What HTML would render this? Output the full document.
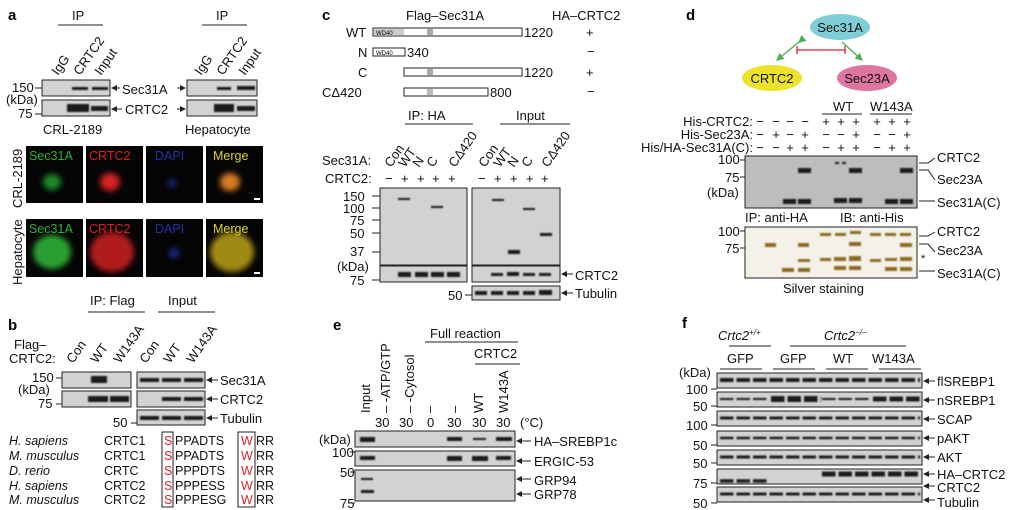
<!DOCTYPE html>
<html><head><meta charset="utf-8"><style>
html,body{margin:0;padding:0;background:#fff;}
svg{display:block;font-family:"Liberation Sans",Arial,sans-serif;}
.t{font-size:13px;fill:#111;}
.s{font-size:11px;fill:#111;}
.b{font-weight:bold;font-size:15px;}
.blot{fill:#d2d2d2;stroke:#222;stroke-width:1;}
.bd{fill:#1a1a1a;filter:url(#bl);}
.ln{stroke:#222;stroke-width:1;fill:none;}
.img{fill:#050505;}
.fb{stroke:#1a1a1a;stroke-dasharray:13.5 3;filter:url(#bl);}
</style></head><body>
<svg width="1024" height="510" viewBox="0 0 1024 510" xmlns="http://www.w3.org/2000/svg">
<defs>
<filter id="bl" x="-20%" y="-100%" width="140%" height="300%"><feGaussianBlur stdDeviation="0.9"/></filter>
<filter id="bl3" x="-50%" y="-50%" width="200%" height="200%"><feGaussianBlur stdDeviation="3"/></filter>
<marker id="ar" markerWidth="6" markerHeight="6" refX="5" refY="3" orient="auto"><path d="M0,0 L6,3 L0,6 z" fill="#222"/></marker>
<marker id="ag" markerWidth="6" markerHeight="6" refX="5" refY="3" orient="auto"><path d="M0,0 L6,3 L0,6 z" fill="#4caf50"/></marker>
</defs>

<!-- Panel a -->
<text x="8" y="20" class="b">a</text>
<text x="72" y="20" class="t">IP</text><line x1="58" y1="25" x2="103" y2="25" class="ln"/>
<text x="216" y="20" class="t">IP</text><line x1="202" y1="25" x2="247" y2="25" class="ln"/>
<g class="t">
<text transform="translate(58,76) rotate(-55)">IgG</text>
<text transform="translate(80,76) rotate(-55)">CRTC2</text>
<text transform="translate(101,76) rotate(-55)">Input</text>
<text transform="translate(201,76) rotate(-55)">IgG</text>
<text transform="translate(223,76) rotate(-55)">CRTC2</text>
<text transform="translate(245,76) rotate(-55)">Input</text>
</g>
<rect x="42" y="80" width="68" height="16" class="blot"/>
<rect x="42" y="100" width="68" height="16" class="blot"/>
<rect x="187" y="80" width="70" height="16" class="blot"/>
<rect x="187" y="100" width="70" height="16" class="blot"/>
<rect x="72" y="87" width="16" height="3" class="bd"/><rect x="92" y="87" width="16" height="3" class="bd"/>
<rect x="67" y="104" width="22" height="8" class="bd"/><rect x="91" y="106" width="17" height="5" class="bd"/>
<rect x="217" y="87" width="14" height="3" class="bd"/><rect x="237" y="86" width="18" height="4" class="bd"/>
<rect x="214" y="104" width="20" height="8" class="bd"/><rect x="237" y="106" width="18" height="5" class="bd"/>
<text x="12" y="92" class="t">150</text><line x1="35" y1="88" x2="42" y2="88" class="ln"/>
<text x="6" y="104" class="t">(kDa)</text>
<text x="18" y="118" class="t">75</text><line x1="35" y1="114" x2="42" y2="114" class="ln"/>
<text x="122" y="94" class="t">Sec31A</text><line x1="120" y1="88" x2="112" y2="88" class="ln" marker-end="url(#ar)"/>
<line x1="177" y1="88" x2="185" y2="88" class="ln" marker-end="url(#ar)"/>
<text x="125" y="114" class="t">CRTC2</text><line x1="122" y1="109" x2="112" y2="109" class="ln" marker-end="url(#ar)"/>
<line x1="177" y1="109" x2="185" y2="109" class="ln" marker-end="url(#ar)"/>
<text x="43" y="134" class="t">CRL-2189</text>
<text x="185" y="134" class="t">Hepatocyte</text>
<!-- fluorescence -->
<rect x="26" y="146" width="57" height="57" class="img"/><rect x="86" y="146" width="57" height="57" class="img"/>
<rect x="146" y="146" width="57" height="57" class="img"/><rect x="206" y="146" width="57" height="57" class="img"/>
<rect x="26" y="219" width="57" height="58" class="img"/><rect x="86" y="219" width="57" height="58" class="img"/>
<rect x="146" y="219" width="57" height="58" class="img"/><rect x="206" y="219" width="57" height="58" class="img"/>
<ellipse cx="52" cy="182" rx="9" ry="8" fill="#1f8a2a" filter="url(#bl3)"/>
<ellipse cx="110" cy="182" rx="10" ry="9" fill="#d42020" filter="url(#bl3)"/>
<ellipse cx="172" cy="183" rx="4" ry="4" fill="#1a2a90" filter="url(#bl3)"/>
<ellipse cx="230" cy="182" rx="10" ry="9" fill="#d87a20" filter="url(#bl3)"/>
<ellipse cx="52" cy="252" rx="19" ry="17" fill="#2aa030" filter="url(#bl3)"/>
<ellipse cx="112" cy="252" rx="22" ry="20" fill="#b01c1c" filter="url(#bl3)"/>
<ellipse cx="174" cy="253" rx="5" ry="5" fill="#1a2a90" filter="url(#bl3)"/>
<ellipse cx="232" cy="252" rx="22" ry="20" fill="#a08a18" filter="url(#bl3)"/>
<g style="font-size:12.5px">
<text x="29" y="160" fill="#2fb030">Sec31A</text><text x="89" y="160" fill="#e02020">CRTC2</text>
<text x="155" y="160" fill="#2232a8">DAPI</text><text x="213" y="160" fill="#e0d020">Merge</text>
<text x="29" y="233" fill="#2fb030">Sec31A</text><text x="89" y="233" fill="#e02020">CRTC2</text>
<text x="155" y="233" fill="#2232a8">DAPI</text><text x="213" y="233" fill="#e0d020">Merge</text>
</g>
<rect x="254" y="198" width="6" height="2" fill="#fff"/><rect x="254" y="272" width="6" height="2" fill="#fff"/>
<text transform="translate(22,208) rotate(-90)" class="t">CRL-2189</text>
<text transform="translate(22,285) rotate(-90)" class="t">Hepatocyte</text>

<!-- Panel b -->
<text x="90" y="305" class="t">IP: Flag</text><line x1="88" y1="312" x2="145" y2="312" class="ln"/>
<text x="168" y="305" class="t">Input</text><line x1="158" y1="312" x2="215" y2="312" class="ln"/>
<text x="8" y="330" class="b">b</text>
<text x="14" y="349" class="t">Flag–</text><text x="9" y="363" class="t">CRTC2:</text>
<g class="t">
<text transform="translate(73,364) rotate(-55)">Con</text>
<text transform="translate(97,364) rotate(-55)">WT</text>
<text transform="translate(120,364) rotate(-55)">W143A</text>
<text transform="translate(146,364) rotate(-55)">Con</text>
<text transform="translate(170,364) rotate(-55)">WT</text>
<text transform="translate(193,364) rotate(-55)">W143A</text>
</g>
<rect x="62" y="372" width="69" height="16" class="blot"/><rect x="62" y="391" width="69" height="16" class="blot"/>
<rect x="137" y="372" width="68" height="16" class="blot"/><rect x="137" y="391" width="68" height="16" class="blot"/>
<rect x="137" y="410" width="68" height="15" class="blot"/>
<rect x="91" y="376" width="16" height="7" class="bd"/>
<rect x="88" y="396" width="20" height="6" class="bd"/><rect x="110" y="396" width="19" height="6" class="bd"/>
<rect x="140" y="378" width="19" height="4" class="bd"/><rect x="162" y="378" width="19" height="4" class="bd"/><rect x="184" y="378" width="19" height="4" class="bd"/>
<rect x="162" y="397" width="19" height="4" class="bd"/><rect x="184" y="397" width="19" height="4" class="bd"/>
<rect x="140" y="416" width="19" height="4" class="bd"/><rect x="162" y="416" width="19" height="4" class="bd"/><rect x="184" y="416" width="19" height="4" class="bd"/>
<text x="32" y="382" class="t">150</text><line x1="56" y1="378" x2="62" y2="378" class="ln"/>
<text x="18" y="394" class="t">(kDa)</text>
<text x="38" y="408" class="t">75</text><line x1="56" y1="404" x2="62" y2="404" class="ln"/>
<text x="113" y="427" class="t">50</text><line x1="131" y1="423" x2="137" y2="423" class="ln"/>
<text x="220" y="385" class="t">Sec31A</text><line x1="218" y1="380" x2="207" y2="380" class="ln" marker-end="url(#ar)"/>
<text x="220" y="404" class="t">CRTC2</text><line x1="218" y1="399" x2="207" y2="399" class="ln" marker-end="url(#ar)"/>
<text x="220" y="423" class="t">Tubulin</text><line x1="218" y1="418" x2="207" y2="418" class="ln" marker-end="url(#ar)"/>
<g class="t" style="font-size:12.5px">
<text x="9" y="445" font-style="italic">H. sapiens</text><text x="104" y="445">CRTC1</text><text x="175" y="445">PPADTS</text><text x="256" y="445">RR</text>
<text x="9" y="460" font-style="italic">M. musculus</text><text x="104" y="460">CRTC1</text><text x="175" y="460">PPADTS</text><text x="256" y="460">RR</text>
<text x="9" y="475" font-style="italic">D. rerio</text><text x="104" y="475">CRTC</text><text x="175" y="475">PPPDTS</text><text x="256" y="475">RR</text>
<text x="9" y="490" font-style="italic">H. sapiens</text><text x="104" y="490">CRTC2</text><text x="175" y="490">PPPESS</text><text x="256" y="490">RR</text>
<text x="9" y="504" font-style="italic">M. musculus</text><text x="104" y="504">CRTC2</text><text x="175" y="504">PPPESG</text><text x="256" y="504">RR</text>
</g>
<g style="font-size:12.5px" fill="#e0202a">
<text x="164" y="445">S</text><text x="164" y="460">S</text><text x="164" y="475">S</text><text x="164" y="490">S</text><text x="164" y="504">S</text>
<text x="241" y="445">W</text><text x="241" y="460">W</text><text x="241" y="475">W</text><text x="241" y="490">W</text><text x="241" y="504">W</text>
</g>
<rect x="162" y="432" width="11" height="75" class="ln"/><rect x="238" y="432" width="17" height="75" class="ln"/>

<!-- Panel c -->
<text x="322" y="20" class="b">c</text>
<text x="406" y="20" class="t">Flag–Sec31A</text><text x="552" y="20" class="t">HA–CRTC2</text>
<text x="346" y="37" class="t">WT</text><text x="358" y="57" class="t">N</text><text x="358" y="77" class="t">C</text><text x="322" y="97" class="t">CΔ420</text>
<rect x="373" y="28" width="149" height="8" class="ln" fill="#fff"/><rect x="374" y="29" width="30" height="6" fill="#ccc"/><text x="376" y="35" style="font-size:6px">WD40</text><rect x="427" y="29" width="6" height="6" fill="#aaa"/>
<rect x="373" y="48" width="32" height="8" class="ln" fill="#ccc"/><text x="376" y="55" style="font-size:6px">WD40</text>
<rect x="404" y="68" width="118" height="8" class="ln" fill="#fff"/><rect x="427" y="69" width="6" height="6" fill="#aaa"/>
<rect x="404" y="88" width="84" height="8" class="ln" fill="#fff"/><rect x="427" y="89" width="6" height="6" fill="#bbb"/>
<text x="524" y="37" class="t">1220</text><text x="407" y="57" class="t">340</text><text x="524" y="77" class="t">1220</text><text x="490" y="97" class="t">800</text>
<text x="586" y="37" class="t">+</text><text x="587" y="56" class="t">−</text><text x="586" y="77" class="t">+</text><text x="587" y="96" class="t">−</text>
<text x="408" y="120" class="t">IP: HA</text><line x1="405" y1="124" x2="473" y2="124" class="ln"/>
<text x="516" y="120" class="t">Input</text><line x1="500" y1="124" x2="570" y2="124" class="ln"/>
<g class="t">
<text transform="translate(391,168) rotate(-55)">Con</text>
<text transform="translate(405,168) rotate(-55)">WT</text>
<text transform="translate(419,168) rotate(-55)">N</text>
<text transform="translate(433,168) rotate(-55)">C</text>
<text transform="translate(455,168) rotate(-55)">CΔ420</text>
<text transform="translate(485,168) rotate(-55)">Con</text>
<text transform="translate(500,168) rotate(-55)">WT</text>
<text transform="translate(514,168) rotate(-55)">N</text>
<text transform="translate(528,168) rotate(-55)">C</text>
<text transform="translate(548,168) rotate(-55)">CΔ420</text>
</g>
<text x="322" y="165" class="t">Sec31A:</text><text x="325" y="183" class="t">CRTC2:</text>
<g class="t">
<text x="385" y="183">−</text><text x="401" y="183">+</text><text x="417" y="183">+</text><text x="432" y="183">+</text><text x="448" y="183">+</text>
<text x="478" y="183">−</text><text x="494" y="183">+</text><text x="510" y="183">+</text><text x="526" y="183">+</text><text x="541" y="183">+</text>
</g>
<rect x="380" y="188" width="87" height="77" class="blot" fill="#d4d4d4"/>
<rect x="472" y="188" width="88" height="77" class="blot" fill="#d4d4d4"/>
<rect x="398" y="198" width="12" height="2" class="bd"/><rect x="431" y="206" width="12" height="2" class="bd"/>
<rect x="492" y="199" width="12" height="2" class="bd"/><rect x="523" y="208" width="12" height="2" class="bd"/>
<rect x="508" y="250" width="12" height="4" class="bd"/><rect x="540" y="233" width="12" height="3" class="bd"/>
<g class="t"><text x="343" y="201">150</text><text x="343" y="213">100</text><text x="350" y="225">75</text><text x="350" y="238">50</text><text x="350" y="256">37</text><text x="337" y="271">(kDa)</text><text x="350" y="285">75</text></g>
<g class="ln"><line x1="372" y1="196" x2="380" y2="196"/><line x1="372" y1="208" x2="380" y2="208"/><line x1="372" y1="220" x2="380" y2="220"/><line x1="372" y1="233" x2="380" y2="233"/><line x1="372" y1="252" x2="380" y2="252"/><line x1="372" y1="280" x2="380" y2="280"/><line x1="465" y1="295" x2="472" y2="295"/></g>
<rect x="380" y="266" width="87" height="16" class="blot"/><rect x="472" y="266" width="88" height="16" class="blot"/>
<rect x="472" y="286" width="88" height="14" class="blot"/>
<rect x="398" y="272" width="13" height="5" class="bd"/><rect x="415" y="272" width="13" height="5" class="bd"/><rect x="431" y="272" width="13" height="5" class="bd"/><rect x="447" y="272" width="13" height="5" class="bd"/>
<rect x="491" y="273" width="12" height="3" class="bd"/><rect x="507" y="272" width="12" height="4" class="bd"/><rect x="523" y="273" width="12" height="3" class="bd"/><rect x="539" y="273" width="12" height="3" class="bd"/>
<rect x="475" y="291" width="12" height="4" class="bd"/><rect x="491" y="291" width="12" height="4" class="bd"/><rect x="507" y="291" width="12" height="4" class="bd"/><rect x="523" y="291" width="12" height="4" class="bd"/><rect x="539" y="290" width="13" height="5" class="bd"/>
<text x="448" y="300" class="t">50</text>
<text x="575" y="280" class="t">CRTC2</text><line x1="573" y1="274" x2="562" y2="274" class="ln" marker-end="url(#ar)"/>
<text x="575" y="298" class="t">Tubulin</text><line x1="573" y1="293" x2="562" y2="293" class="ln" marker-end="url(#ar)"/>

<!-- Panel d -->
<text x="686" y="20" class="b">d</text>
<ellipse cx="840" cy="27" rx="30" ry="13" fill="#7fcdd6"/><text x="840" y="32" class="t" text-anchor="middle">Sec31A</text>
<ellipse cx="772" cy="78" rx="30" ry="13" fill="#ece22a"/><text x="772" y="83" class="t" text-anchor="middle">CRTC2</text>
<ellipse cx="867" cy="78" rx="30" ry="13" fill="#de74a0"/><text x="867" y="83" class="t" text-anchor="middle">Sec23A</text>
<line x1="799" y1="42" x2="777" y2="60" stroke="#4caf50" stroke-width="1.3" marker-end="url(#ag)" marker-start="url(#ag)"/>
<line x1="842" y1="42" x2="862" y2="60" stroke="#4caf50" stroke-width="1.3" marker-end="url(#ag)"/>
<line x1="797" y1="50" x2="845" y2="50" stroke="#e02030" stroke-width="1.3"/><line x1="797" y1="46" x2="797" y2="54" stroke="#e02030" stroke-width="1.3"/><line x1="845" y1="46" x2="845" y2="54" stroke="#e02030" stroke-width="1.3"/>
<text x="833" y="111" class="t">WT</text><line x1="822" y1="114" x2="862" y2="114" class="ln"/>
<text x="870" y="111" class="t">W143A</text><line x1="870" y1="114" x2="912" y2="114" class="ln"/>
<g class="t" text-anchor="end"><text x="753" y="126">His-CRTC2:</text><text x="753" y="139">His-Sec23A:</text><text x="753" y="152">His/HA-Sec31A(C):</text></g>
<g class="t" text-anchor="middle">
<text x="760" y="126">−</text><text x="776" y="126">−</text><text x="790" y="126">−</text><text x="805" y="126">−</text><text x="826" y="126">+</text><text x="841" y="126">+</text><text x="856" y="126">+</text><text x="877" y="126">+</text><text x="892" y="126">+</text><text x="907" y="126">+</text>
<text x="760" y="139">−</text><text x="776" y="139">+</text><text x="790" y="139">−</text><text x="805" y="139">+</text><text x="826" y="139">−</text><text x="841" y="139">−</text><text x="856" y="139">+</text><text x="877" y="139">−</text><text x="892" y="139">−</text><text x="907" y="139">+</text>
<text x="760" y="152">−</text><text x="776" y="152">−</text><text x="790" y="152">+</text><text x="805" y="152">+</text><text x="826" y="152">−</text><text x="841" y="152">+</text><text x="856" y="152">+</text><text x="877" y="152">−</text><text x="892" y="152">+</text><text x="907" y="152">+</text>
</g>
<rect x="745" y="156" width="172" height="52" class="blot" fill="#bdbdbd" style="fill:#bdbdbd"/>
<rect x="798" y="168" width="13" height="5" class="bd"/><rect x="849" y="168" width="13" height="5" class="bd"/><rect x="900" y="168" width="13" height="5" class="bd"/>
<rect x="783" y="199" width="13" height="5" class="bd"/><rect x="798" y="199" width="13" height="5" class="bd"/><rect x="834" y="198" width="13" height="5" class="bd"/><rect x="849" y="198" width="13" height="5" class="bd"/><rect x="885" y="199" width="13" height="5" class="bd"/><rect x="900" y="199" width="13" height="5" class="bd"/>
<rect x="835" y="162" width="4" height="2" class="bd"/><rect x="842" y="162" width="4" height="2" class="bd"/>
<g class="t"><text x="718" y="164">100</text><text x="725" y="182">75</text><text x="707" y="197">(kDa)</text><text x="718" y="236">100</text><text x="725" y="253">75</text></g>
<g class="ln"><line x1="740" y1="160" x2="745" y2="160"/><line x1="740" y1="177" x2="745" y2="177"/><line x1="740" y1="231" x2="745" y2="231"/><line x1="740" y1="248" x2="745" y2="248"/></g>
<text x="745" y="222" class="t">IP: anti-HA</text><text x="840" y="222" class="t">IB: anti-His</text>
<rect x="745" y="227" width="172" height="51" class="blot" style="fill:#f4f1e8"/>
<g fill="#8a6a20" filter="url(#bl)">
<rect x="765" y="243" width="11" height="4"/><rect x="798" y="243" width="11" height="4"/><rect x="849" y="242" width="12" height="4"/><rect x="900" y="243" width="12" height="4"/>
<rect x="820" y="233" width="11" height="3"/><rect x="835" y="233" width="11" height="3"/><rect x="850" y="231" width="11" height="3"/><rect x="870" y="233" width="11" height="3"/><rect x="885" y="233" width="11" height="3"/><rect x="900" y="233" width="11" height="3"/>
<rect x="782" y="268" width="12" height="4"/><rect x="798" y="268" width="12" height="4"/><rect x="834" y="266" width="12" height="4"/><rect x="849" y="266" width="12" height="4"/><rect x="885" y="267" width="12" height="4"/><rect x="900" y="267" width="12" height="4"/>
<rect x="798" y="259" width="12" height="3"/><rect x="820" y="258" width="11" height="3"/><rect x="834" y="257" width="12" height="4"/><rect x="849" y="256" width="12" height="5"/><rect x="870" y="259" width="11" height="3"/><rect x="885" y="258" width="12" height="3"/><rect x="900" y="257" width="12" height="4"/>
</g>
<text x="783" y="293" class="t">Silver staining</text>
<g class="t"><text x="937" y="162">CRTC2</text><text x="937" y="184">Sec23A</text><text x="937" y="207">Sec31A(C)</text><text x="937" y="236">CRTC2</text><text x="937" y="255">Sec23A</text><text x="937" y="278">Sec31A(C)</text></g>
<g class="ln">
<polyline points="935,158 928,163 919,163"/><polyline points="935,180 928,170 919,170"/><line x1="935" y1="201" x2="919" y2="201"/>
<polyline points="935,232 928,236 919,236"/><polyline points="935,252 928,244 919,244"/><line x1="935" y1="271" x2="919" y2="271"/>
</g>
<text x="921" y="262" class="s">*</text>

<!-- Panel e -->
<text x="333" y="330" class="b">e</text>
<text x="430" y="338" class="t">Full reaction</text><line x1="425" y1="342" x2="518" y2="342" class="ln"/>
<text x="474" y="358" class="t">CRTC2</text><line x1="475" y1="364" x2="520" y2="364" class="ln"/>
<g class="t">
<text transform="translate(370,413) rotate(-90)">Input</text>
<text transform="translate(390,413) rotate(-90)">– -ATP/GTP</text>
<text transform="translate(414,413) rotate(-90)">– -Cytosol</text>
<text transform="translate(434,413) rotate(-90)">–</text>
<text transform="translate(459,413) rotate(-90)">–</text>
<text transform="translate(483,413) rotate(-90)">WT</text>
<text transform="translate(508,413) rotate(-90)">W143A</text>
</g>
<g class="t"><text x="375" y="427">30</text><text x="399" y="427">30</text><text x="427" y="427">0</text><text x="447" y="427">30</text><text x="472" y="427">30</text><text x="496" y="427">30</text><text x="520" y="427">(°C)</text></g>
<rect x="355" y="431" width="160" height="16" class="blot"/><rect x="355" y="451" width="160" height="15" class="blot"/><rect x="355" y="470" width="160" height="31" class="blot"/>
<rect x="360" y="437" width="15" height="5" class="bd"/><rect x="447" y="437" width="15" height="4" class="bd"/><rect x="473" y="438" width="13" height="2" class="bd"/><rect x="496" y="437" width="16" height="4" class="bd"/>
<rect x="360" y="456" width="15" height="4" class="bd"/><rect x="447" y="456" width="15" height="5" class="bd"/><rect x="472" y="456" width="16" height="5" class="bd"/><rect x="496" y="456" width="15" height="4" class="bd"/>
<rect x="361" y="478" width="12" height="2" class="bd"/><rect x="361" y="490" width="13" height="3" class="bd"/>
<g class="t"><text x="319" y="444">(kDa)</text><text x="332" y="457">100</text><text x="340" y="477">50</text><text x="340" y="508">75</text></g>
<g class="ln"><line x1="350" y1="452" x2="355" y2="452"/><line x1="350" y1="472" x2="355" y2="472"/><line x1="350" y1="503" x2="355" y2="503"/></g>
<g class="t"><text x="534" y="446">HA–SREBP1c</text><text x="534" y="466">ERGIC-53</text><text x="534" y="485">GRP94</text><text x="534" y="499">GRP78</text></g>
<g class="ln"><line x1="531" y1="441" x2="517" y2="441" marker-end="url(#ar)"/><line x1="531" y1="461" x2="517" y2="461" marker-end="url(#ar)"/><line x1="531" y1="479" x2="517" y2="479" marker-end="url(#ar)"/><line x1="531" y1="494" x2="517" y2="494" marker-end="url(#ar)"/></g>

<!-- Panel f -->
<text x="682" y="328" class="b">f</text>
<text x="718" y="340" class="t" font-style="italic">Crtc2<tspan font-size="8" dy="-5">+/+</tspan></text><line x1="729" y1="346" x2="771" y2="346" class="ln"/>
<text x="824" y="340" class="t" font-style="italic">Crtc2<tspan font-size="8" dy="-5">−/−</tspan></text><line x1="790" y1="346" x2="906" y2="346" class="ln"/>
<g class="t"><text x="727" y="363">GFP</text><text x="780" y="363">GFP</text><text x="833" y="363">WT</text><text x="872" y="363">W143A</text></g>
<g class="ln"><line x1="720" y1="369" x2="762" y2="369"/><line x1="773" y1="369" x2="815" y2="369"/><line x1="826" y1="369" x2="868" y2="369"/><line x1="879" y1="369" x2="921" y2="369"/></g>
<g class="t"><text x="679" y="377">(kDa)</text><text x="686" y="394">100</text><text x="693" y="411">50</text><text x="686" y="430">100</text><text x="693" y="450">50</text><text x="693" y="468">50</text><text x="693" y="488">75</text><text x="693" y="508">50</text></g>
<g class="ln"><line x1="711" y1="389" x2="717" y2="389"/><line x1="711" y1="406" x2="717" y2="406"/><line x1="711" y1="425" x2="717" y2="425"/><line x1="711" y1="445" x2="717" y2="445"/><line x1="711" y1="463" x2="717" y2="463"/><line x1="711" y1="483" x2="717" y2="483"/><line x1="711" y1="503" x2="717" y2="503"/></g>
<g class="blot">
<rect x="717" y="373" width="205" height="15"/><rect x="717" y="392" width="205" height="15"/><rect x="717" y="411" width="205" height="15"/><rect x="717" y="431" width="205" height="15"/><rect x="717" y="450" width="205" height="15"/><rect x="717" y="469" width="205" height="15"/><rect x="717" y="487" width="205" height="15"/>
</g>
<g class="fb">
<line x1="720" y1="380" x2="920" y2="380" stroke-width="4"/>
<line x1="720" y1="399" x2="768" y2="399" stroke-width="2"/><line x1="771" y1="399" x2="821" y2="399" stroke-width="6"/><line x1="822" y1="399" x2="870" y2="399" stroke-width="2"/><line x1="873" y1="399" x2="920" y2="399" stroke-width="5"/>
<line x1="720" y1="418" x2="920" y2="418" stroke-width="3"/>
<line x1="720" y1="438" x2="920" y2="438" stroke-width="2.5"/>
<line x1="720" y1="457" x2="920" y2="457" stroke-width="3"/>
<line x1="822" y1="474" x2="920" y2="474" stroke-width="5"/><line x1="720" y1="481" x2="768" y2="481" stroke-width="3.5"/>
<line x1="720" y1="494" x2="920" y2="494" stroke-width="3"/>
</g>
<g class="t"><text x="937" y="386">flSREBP1</text><text x="937" y="405">nSREBP1</text><text x="937" y="424">SCAP</text><text x="937" y="443">pAKT</text><text x="937" y="462">AKT</text><text x="937" y="479">HA–CRTC2</text><text x="937" y="492">CRTC2</text><text x="937" y="507">Tubulin</text></g>
<g class="ln">
<line x1="935" y1="381" x2="924" y2="381" marker-end="url(#ar)"/><line x1="935" y1="400" x2="924" y2="400" marker-end="url(#ar)"/><line x1="935" y1="419" x2="924" y2="419" marker-end="url(#ar)"/><line x1="935" y1="438" x2="924" y2="438" marker-end="url(#ar)"/><line x1="935" y1="457" x2="924" y2="457" marker-end="url(#ar)"/><line x1="935" y1="474" x2="924" y2="474" marker-end="url(#ar)"/><line x1="935" y1="486" x2="924" y2="486" marker-end="url(#ar)"/><line x1="935" y1="500" x2="924" y2="500" marker-end="url(#ar)"/>
</g>
</svg>
</body></html>
